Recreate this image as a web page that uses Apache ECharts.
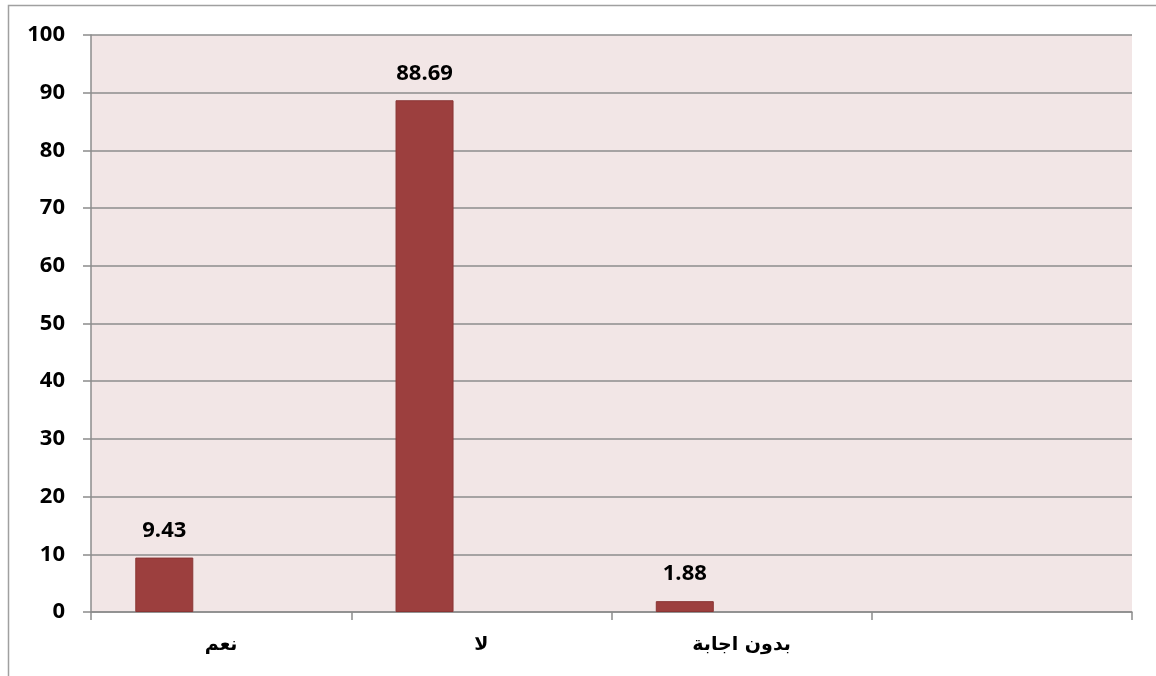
<!DOCTYPE html>
<html>
<head>
<meta charset="utf-8">
<script src="https://cdn.jsdelivr.net/npm/echarts@6/dist/echarts.min.js"></script>
<style>
html,body{margin:0;padding:0;background:#fff;}
#chart{width:1156px;height:676px;}
</style>
</head>
<body>
<div id="chart"></div>
<script>
// Answers and their percentages
const categories = ['نعم', 'لا', 'بدون اجابة', ''];
const percentages = [9.43, 88.69, 1.88, null];
const secondSeries = [null, null, null, null];
const yTicks = [0, 10, 20, 30, 40, 50, 60, 70, 80, 90, 100];

const chart = echarts.init(document.getElementById('chart'), null, {renderer: 'canvas'});

const option = {
  backgroundColor: '#ffffff',
  animation: false,
  graphic: [{
    type: 'rect',
    shape: {x: 8.5, y: 5.5, width: 1200, height: 720},
    style: {fill: 'none', stroke: '#a0a0a0', lineWidth: 1.5},
    z: 0
  }],
  grid: {
    left: 91, right: 24, top: 35, bottom: 64,
    show: true,
    backgroundColor: '#f2e6e6',
    borderWidth: 0
  },
  xAxis: {
    type: 'category',
    data: categories,
    axisLine: {show: true, lineStyle: {color: '#8c8c8c', width: 1.5}},
    axisTick: {show: true, alignWithLabel: false, length: 8, lineStyle: {color: '#8c8c8c', width: 1.5}},
    axisLabel: {
      margin: 24,
      color: '#000',
      fontFamily: 'DejaVu Sans',
      fontWeight: 'bold',
      fontSize: 19
    },
    splitLine: {show: false}
  },
  yAxis: {
    type: 'value',
    min: yTicks[0],
    max: yTicks[yTicks.length - 1],
    interval: 10,
    axisLine: {show: true, lineStyle: {color: '#8c8c8c', width: 1.5}},
    axisTick: {show: true, length: 8, lineStyle: {color: '#8c8c8c', width: 1.5}},
    axisLabel: {
      margin: 26,
      color: '#000',
      fontFamily: 'Open Sans',
      fontWeight: 'bold',
      fontSize: 22
    },
    splitLine: {show: true, lineStyle: {color: '#8c8c8c', width: 1.5}}
  },
  series: [{
    type: 'bar',
    data: percentages,
    barWidth: 58,
    barGap: '96%',
    itemStyle: {color: '#9c3f3e', borderColor: '#8a3534', borderWidth: 1},
    label: {
      show: true,
      position: 'top',
      distance: 16,
      color: '#000',
      fontFamily: 'Open Sans',
      fontWeight: 'bold',
      fontSize: 22
    },
    z: 3
  }, {
    type: 'bar',
    data: secondSeries,
    barWidth: 58,
    itemStyle: {color: '#4f81bd'}
  }]
};

chart.setOption(option);
</script>
</body>
</html>
